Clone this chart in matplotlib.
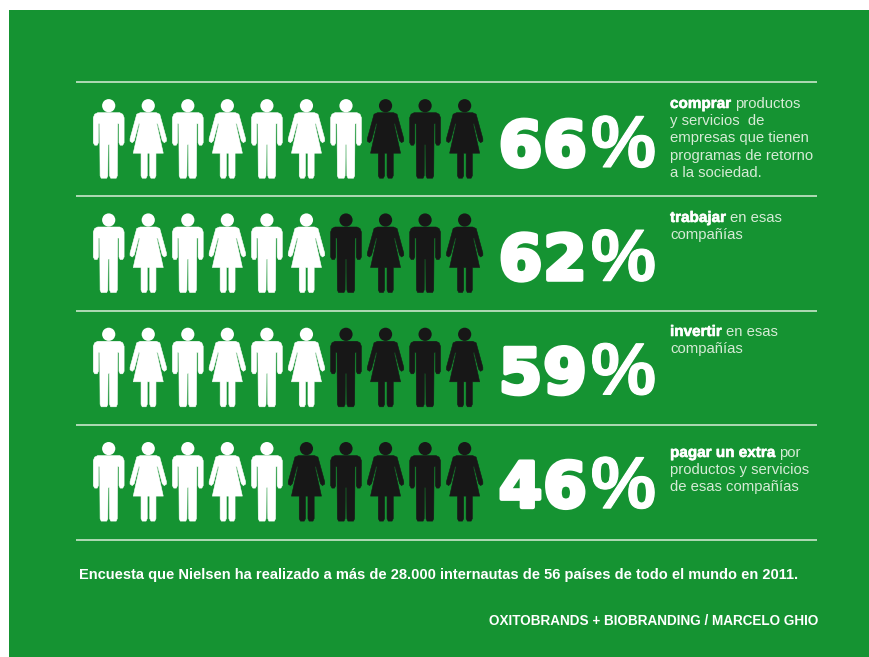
import matplotlib
matplotlib.use('Agg')
import matplotlib.pyplot as plt
import matplotlib.patheffects as pe
from matplotlib.patches import Circle, Polygon, Rectangle

GREEN = '#159332'
BLACK = '#171717'
WHITE = '#ffffff'
SOFT = '#d6ebd6'

# Datos de la encuesta
percents = [66, 62, 59, 46]
captions = [
    [('comprar', ' productos'), ('', 'y servicios  de'), ('', 'empresas que tienen'),
     ('', 'programas de retorno'), ('', 'a la sociedad.')],
    [('trabajar', ' en esas'), ('', 'compañías')],
    [('invertir', ' en esas'), ('', 'compañías')],
    [('pagar un extra', ' por'), ('', 'productos y servicios'), ('', 'de esas compañías')],
]
footer = 'Encuesta que Nielsen ha realizado a más de 28.000 internautas de 56 países de todo el mundo en 2011.'
credit = 'OXITOBRANDS + BIOBRANDING / MARCELO GHIO'

# Altura de la primera linea de texto en cada fila
caption_y = [108, 222, 336, 457]

# Siluetas relativas al centro de la cabeza
MAN = [(-11, 7), (11, 7), (14, 8.5), (15.4, 12), (15.4, 37), (14, 39.5), (11.5, 39.5), (10.3, 37),
       (10.3, 18), (9, 18), (8.6, 70), (7.5, 72.5), (2, 72.5), (0.9, 70), (0.6, 39), (-0.6, 39),
       (-0.9, 70), (-2, 72.5), (-7.5, 72.5), (-8.6, 70), (-9, 18), (-10.3, 18), (-10.3, 37),
       (-11.5, 39.5), (-14, 39.5), (-15.4, 37), (-15.4, 12), (-14, 8.5)]
WOMAN = [(-8, 7), (8, 7), (11.5, 8.5), (18.2, 33), (18.2, 35.5), (16, 37), (14, 35), (9.5, 18), (8.5, 18),
         (15, 47.5), (7.7, 47.5), (7.7, 70), (6.5, 72.5), (2.7, 72.5), (1.5, 70), (1.5, 47.5), (-1, 47.5),
         (-1, 70), (-2.2, 72.5), (-6, 72.5), (-7.2, 70), (-7.2, 47.5), (-15, 47.5), (-8.5, 18), (-9.5, 18),
         (-14, 35), (-16, 37), (-18.2, 35.5), (-18.2, 33), (-11.5, 8.5)]


def draw_person(ax, cx, cy, shape, color):
    ax.add_patch(Circle((cx, cy), 6.6, fc=color, ec='none'))
    pts = [(cx + dx, cy + dy) for dx, dy in shape]
    ax.add_patch(Polygon(pts, closed=True, fc=color, ec=color, lw=0.4, joinstyle='round'))


def draw_percent(ax, pct, base):
    # Cada cifra va aparte para abrir el espaciado
    digits = str(pct)
    for x, ch in zip((520.5, 565), digits):
        ax.text(x, base, ch, color=WHITE, fontsize=45, family='DejaVu Sans', fontweight='bold',
                va='baseline', ha='center',
                path_effects=[pe.withStroke(linewidth=3, foreground=WHITE, joinstyle='round')])
    ax.text(623.5, base + 1, '%', color=WHITE, fontsize=53, family='Liberation Sans', fontweight='bold',
            va='baseline', ha='center',
            path_effects=[pe.withStroke(linewidth=0.8, foreground=WHITE, joinstyle='round')])


def draw_caption(ax, fig, x, y, lines):
    renderer = fig.canvas.get_renderer()
    for i, (bold, regular) in enumerate(lines):
        yy = y + i * 17.2
        xx = x
        if bold:
            t = ax.text(xx, yy, bold, color=WHITE, fontsize=11, family='Liberation Sans',
                        fontweight='bold', va='baseline', ha='left',
                        path_effects=[pe.withStroke(linewidth=0.4, foreground=WHITE, joinstyle='round')])
            xx = ax.transData.inverted().transform(t.get_window_extent(renderer))[1][0] + 4
        ax.text(xx, yy, regular.strip(' ') if bold else regular, color=SOFT, fontsize=10.7,
                family='Liberation Sans', va='baseline', ha='left')


fig = plt.figure(figsize=(8.7, 6.57), dpi=100, facecolor='white')
ax = fig.add_axes([0, 0, 1, 1])
ax.set_xlim(0, 870)
ax.set_ylim(657, 0)
ax.axis('off')

ax.add_patch(Rectangle((9, 10), 861, 647, fc=GREEN, ec='none'))

# Separadores entre filas
for k in range(5):
    y = 81.5 + k * 114.5
    ax.plot([76, 817], [y, y], color='#d9eed9', lw=1.1, solid_capstyle='butt')

# Filas de personas y porcentaje
for row, pct in enumerate(percents):
    top = 105.7 + row * 114.3
    n_white = round(pct / 10)
    for i in range(10):
        shape = MAN if i % 2 == 0 else WOMAN
        color = WHITE if i < n_white else BLACK
        draw_person(ax, 108.7 + i * 39.55, top, shape, color)
    draw_percent(ax, pct, 166 + row * 113.7)

fig.canvas.draw()
for lines, y in zip(captions, caption_y):
    draw_caption(ax, fig, 670, y, lines)

ax.text(79, 579, footer, color=WHITE, fontsize=10.55, family='Liberation Sans',
        fontweight='bold', va='baseline', ha='left')
ax.text(818, 625, credit, color=WHITE, fontsize=9.75, family='Liberation Sans',
        fontweight='bold', va='baseline', ha='right')

fig.savefig('out.png', dpi=100)
